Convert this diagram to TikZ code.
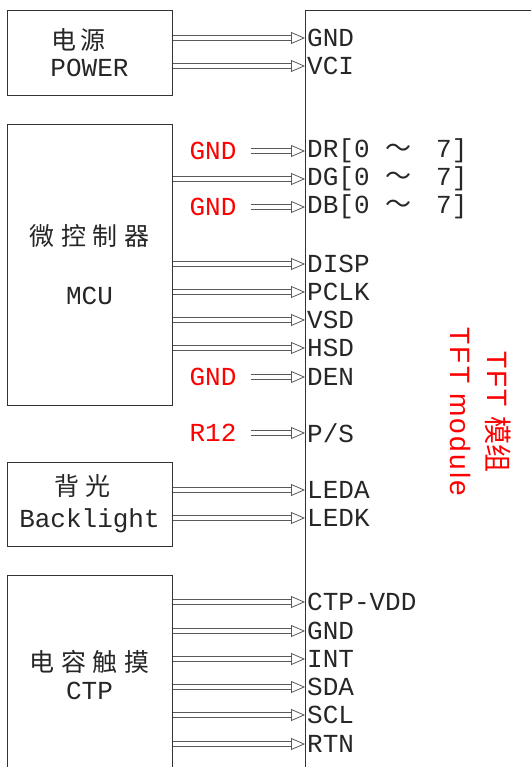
\documentclass[tikz,border=0pt]{standalone}
\usepackage{fontspec}
\usetikzlibrary{arrows.meta}
\newfontfamily\pinfont{Liberation Mono}[Scale=1]
\newfontfamily\cjk{Noto Sans CJK SC}[LetterSpace=26]
\newfontfamily\titlefont{Liberation Sans}[LetterSpace=8]
\newfontfamily\titlecjk{Noto Sans CJK SC}
\tikzset{
  blk/.style={draw=black!80,line width=0.9pt,inner sep=0pt,align=center,text=black!85},
  pin/.style={font=\pinfont\fontsize{26}{26}\selectfont,text=black!85,anchor=west,inner sep=0pt},
  tie/.style={font=\pinfont\fontsize{26}{26}\selectfont,text=red,inner sep=0pt},
  sig/.style={draw=black!65,line width=0.8pt,double,double distance=4.5pt,shorten <=0.6pt,
    -{Triangle[open,length=14pt,width=12pt]}}
}
\newcommand{\lat}{\pinfont\fontsize{26}{26}\selectfont}
\newcommand{\han}{\cjk\fontsize{25}{25}\selectfont}
\newcommand{\pinrange}[1]{#1[0 {\titlecjk\fontsize{26}{26}\selectfont ～}\hspace{25pt}7]}

\begin{document}
\begin{tikzpicture}[x=1pt,y=-1pt]
\useasboundingbox (0,0) rectangle (531,767);
\clip (0,0) rectangle (531,767);
% TFT module outline
\node[draw=black!80,line width=0.9pt,minimum width=300pt,minimum height=800pt,anchor=north west,inner sep=0pt] (tft) at (305,10) {};
\node[text=red,rotate=-90,align=center,inner sep=0pt,font=\titlefont\fontsize{28}{37}\selectfont] (title) at (481,412) {TFT {\titlecjk 模组}\\TFT module};

% source blocks
\node[blk,minimum width=165pt,minimum height=85pt] (power) at (89.5,52.5) {{\han 电\hspace{4pt}源\hspace*{22pt}}\\[6pt]{\lat POWER}};
\node[blk,minimum width=165pt,minimum height=281pt] (mcu) at (89.5,264.5) {{\han 微控制器}\\[38pt]{\lat MCU}};
\node[blk,minimum width=165pt,minimum height=84pt] (bl) at (89.5,504) {{\han 背光\hspace*{14pt}}\\[10pt]{\lat Backlight}};
\node[blk,minimum width=165pt,minimum height=200pt] (ctp) at (89.5,675) {{\han 电容触摸}\\[8pt]{\lat CTP}};

% pins of the module
\foreach \name/\txt/\y in {gnda/GND/38,vci/VCI/66,dr/{\pinrange{DR}}/151,dg/{\pinrange{DG}}/179,db/{\pinrange{DB}}/207,
  disp/DISP/264,pclk/PCLK/292,vsd/VSD/320,hsd/HSD/348,den/DEN/377,ps/{P/S}/433,
  leda/LEDA/490,ledk/LEDK/518,ctpvdd/CTP-VDD/602,gndb/GND/631,int/INT/659,sda/SDA/687,scl/SCL/715,rtn/RTN/744}
  \node[pin] (\name) at (307,\y) {\txt};

% fixed levels
\node[tie] (tier) at (213,151) {GND};
\node[tie] (tieb) at (213,207) {GND};
\node[tie] (tiee) at (213,377) {GND};
\node[tie] (tiep) at (213,433) {R12};

% connections
\foreach \p in {gnda,vci}
  \draw[sig] (power.east |- \p.west) -- (tft.west |- \p.west);
\foreach \p in {dg,disp,pclk,vsd,hsd}
  \draw[sig] (mcu.east |- \p.west) -- (tft.west |- \p.west);
\foreach \p in {leda,ledk}
  \draw[sig] (bl.east |- \p.west) -- (tft.west |- \p.west);
\foreach \p in {ctpvdd,gndb,int,sda,scl,rtn}
  \draw[sig] (ctp.east |- \p.west) -- (tft.west |- \p.west);
\foreach \t/\p in {tier/dr,tieb/db,tiee/den,tiep/ps}
  \draw[sig] ([xshift=14pt]\t.east) -- (tft.west |- \p.west);
\end{tikzpicture}
\end{document}
